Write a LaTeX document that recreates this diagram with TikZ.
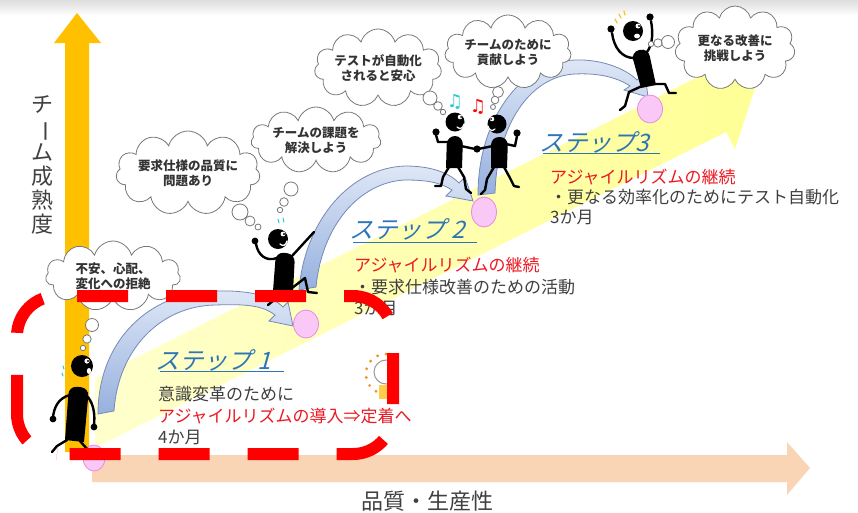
\documentclass[tikz,border=0pt]{standalone}
\usepackage{fontspec}
\newfontfamily\jp{Noto Sans CJK JP}
\newfontfamily\symfont{DejaVu Sans}
\usetikzlibrary{shapes.symbols,shapes.geometric}

\definecolor{axisorange}{RGB}{255,192,0}
\definecolor{peach}{RGB}{249,213,182}
\definecolor{bandlight}{RGB}{255,255,205}
\definecolor{banddeep}{RGB}{255,255,150}
\definecolor{arrowtop}{RGB}{222,231,246}
\definecolor{arrowbot}{RGB}{150,176,222}
\definecolor{arrowedge}{RGB}{118,138,182}
\definecolor{pinkfill}{RGB}{250,200,246}
\definecolor{pinkedge}{RGB}{228,140,224}
\definecolor{cloudgray}{RGB}{120,120,120}
\definecolor{textgray}{RGB}{64,64,64}
\definecolor{redtext}{RGB}{236,24,34}
\definecolor{stepblue}{RGB}{46,117,182}
\definecolor{dashred}{RGB}{255,0,0}
\definecolor{notecyan}{RGB}{40,200,215}
\definecolor{bulbdot}{RGB}{240,150,40}
\definecolor{bulbbase}{RGB}{255,205,70}
\definecolor{sparkle}{RGB}{245,200,40}

\tikzset{
  cloudbox/.style={cloud, cloud puffs=11, cloud ignores aspect, draw=cloudgray,
    fill=white, line width=0.8pt, inner sep=0pt, align=center, text=black!80,
    font=\jp\bfseries\fontsize{12.5}{15}\selectfont},
  puffline/.style={draw=cloudgray, fill=white, line width=0.8pt},
  curvearrow/.style={top color=arrowtop, bottom color=arrowbot, draw=arrowedge, line width=0.8pt},
  stoneball/.style={draw=pinkedge, fill=pinkfill, line width=0.8pt},
  limb/.style={draw=black, line width=2.4pt, line cap=round, line join=round},
  stepbody/.style={font=\jp\fontsize{17}{20}\selectfont, text=textgray, anchor=west, inner sep=0pt},
  stepred/.style={stepbody, text=redtext},
  steplabel/.style={font=\jp\fontsize{24}{26}\selectfont, text=stepblue, anchor=west, inner sep=0pt, transform shape},
  axislabel/.style={font=\jp\fontsize{22}{24}\selectfont, text=textgray, align=center, inner sep=0pt},
  framedash/.style={dashred, line width=12pt, rounded corners=40pt},
}

\begin{document}
\begin{tikzpicture}[x=1pt,y=-1pt]
\useasboundingbox (0,0) rectangle (858,512);
\fill[white] (0,0) rectangle (858,512);
\shade[top color=black!13, bottom color=white] (0,0) rectangle (858,16);

% axes
\fill[axisorange] (65,452) -- (65,43) -- (54,43) -- (77,13) -- (101,43) -- (89,43) -- (89,452) -- cycle;
\fill[peach] (92,455) -- (787,455) -- (787,442) -- (810,468) -- (787,495) -- (787,482) -- (92,482) -- cycle;

% rising band
\shade[left color=bandlight, right color=banddeep]
  (95,448) -- (95,378) -- (698,77) -- (690,60) -- (757,82) -- (735,149) -- (726,132) -- cycle;

% curved step arrows
\shade[curvearrow] (98,414) .. controls (98,340) and (150,292) .. (215,291)
  .. controls (250,290) and (272,296) .. (283,307) -- (288,302) -- (293,326) -- (269,321) -- (275,315)
  .. controls (262,305) and (245,304) .. (215,305) .. controls (160,306) and (118,350) .. (114,411) -- cycle;
\shade[curvearrow] (299,290) .. controls (305,220) and (350,168) .. (405,166)
  .. controls (430,166) and (448,172) .. (459,183) -- (465,177) -- (473,201) -- (446,196) -- (452,190)
  .. controls (440,182) and (425,180) .. (405,180) .. controls (360,182) and (322,225) .. (316,287) -- cycle;
\shade[curvearrow] (478,195) .. controls (478,120) and (520,62) .. (575,60)
  .. controls (600,59) and (625,68) .. (637,80) -- (645,74) -- (648,97) -- (624,90) -- (630,86)
  .. controls (615,76) and (595,73) .. (575,74) .. controls (530,76) and (497,125) .. (495,193) -- cycle;

% stepping stones
\draw[stoneball] (94,458) ellipse [x radius=11pt, y radius=13pt];
\draw[stoneball] (306,324) ellipse [x radius=12.5pt, y radius=14pt];
\draw[stoneball] (484,212) ellipse [x radius=12.5pt, y radius=15pt];
\draw[stoneball] (650,109) ellipse [x radius=12.5pt, y radius=14pt];

% figure 1: worried walker
\fill (65,440) [rounded corners=8pt] -- (69,386) -- (89,388) [sharp corners] -- (84,442) -- cycle;
\draw[limb] (70,395) .. controls (58,398) and (54,408) .. (53,417);
\fill (53,419) circle (3.4pt);
\draw[limb] (88,397) .. controls (94,405) and (95,415) .. (94,425);
\fill (94,427) circle (3.4pt);
\draw[limb] (67,440) -- (57,446) -- (52,452);
\draw[limb] (80,441) -- (88,450) -- (95,452);
\fill (82,366) circle (11pt);
\fill[white] (87,361) circle (2.6pt);
\fill (88,361) circle (1.2pt);
\fill[white] (89,371) ellipse [x radius=2.2pt, y radius=3pt];
\draw[notecyan, line width=1pt, line cap=round] (63,366) -- (64,369) (62,373) -- (63,376);

% figure 2: pointing forward
\fill (273,291) [rounded corners=8pt] -- (276,252) -- (295,254) [sharp corners] -- (293,292) -- cycle;
\draw[limb] (277,258) .. controls (266,262) and (258,255) .. (256,244);
\fill (255,241) circle (3.4pt);
\draw[limb] (292,256) -- (314,232);
\draw[limb] (292,288) -- (305,278) -- (308,292) -- (317,293);
\draw[limb] (279,290) -- (274,300) -- (268,305);
\fill (278,239) circle (10pt);
\fill[white] (283,234) circle (2.4pt);
\fill (284,234) circle (1.1pt);
\draw[white, line width=1.3pt, line cap=round] (280,244) .. controls (283,247) and (286,245) .. (287,241);
\draw[notecyan, line width=1pt, line cap=round] (278,219) -- (279,223) (283,218) -- (284,222);

% figures 3 and 4: handshake
\fill (446,168) [rounded corners=8pt] -- (447,136) -- (463,136) [sharp corners] -- (462,168) -- cycle;
\draw[limb] (448,142) -- (438,142) -- (436,135);
\fill (436,132) circle (3.6pt);
\draw[limb] (461,146) -- (475,149);
\draw[limb] (449,167) -- (443,177) -- (441,186) -- (435,186);
\draw[limb] (458,167) -- (464,177) -- (466,189) -- (471,193);
\fill (455,122) circle (9.5pt);
\fill[white] (460,117) circle (2.3pt);
\fill (461,117) circle (1pt);
\draw[white, line width=1.2pt, line cap=round] (457,127) .. controls (460,130) and (463,128) .. (464,124);

\fill (491,168) [rounded corners=8pt] -- (491,137) -- (508,137) [sharp corners] -- (507,168) -- cycle;
\draw[limb] (493,146) -- (478,149);
\fill (477,149) circle (3.6pt);
\draw[limb] (506,144) -- (515,146) -- (517,136);
\fill (517,133) circle (3.6pt);
\draw[limb] (494,167) -- (487,179) -- (485,190) -- (481,194);
\draw[limb] (504,167) -- (510,178) -- (514,186) -- (519,187);
\fill (497,124) circle (9.5pt);
\fill[white] (492,119) circle (2.3pt);
\fill (491,119) circle (1pt);
\draw[white, line width=1.2pt, line cap=round] (495,129) .. controls (492,132) and (489,130) .. (488,126);

% music notes
\node[font=\symfont\fontsize{18}{18}\selectfont, text=notecyan, inner sep=0pt] (noteA) at (455,102) {♫};
\node[font=\symfont\fontsize{18}{18}\selectfont, text=red, inner sep=0pt] (noteB) at (478,107) {♫};

% figure 5: cheering at the top
\fill (641,88) [rounded corners=8pt] -- (631,52) -- (648,48) [sharp corners] -- (656,85) -- cycle;
\draw[limb] (634,58) .. controls (622,58) and (614,48) .. (612,33);
\fill (611,29) circle (3.6pt);
\draw[limb] (647,52) .. controls (653,44) and (653,32) .. (651,21);
\fill (650,17) circle (3.6pt);
\draw[limb] (642,86) -- (629,92) -- (625,106) -- (620,110);
\draw[limb] (653,84) -- (665,84) -- (669,93) -- (676,93);
\fill (633,31) circle (10pt);
\fill[white] (638,26) circle (2.5pt);
\fill (639,26) circle (1.1pt);
\fill[white] (637,36) ellipse [x radius=3pt, y radius=2.4pt];
\draw[sparkle, line width=1.3pt, line cap=round] (615,19) -- (617,23) (619,14) -- (621,18) (624,11) -- (625,15);

% thought clouds
\node[cloudbox, minimum width=135pt, minimum height=70pt] (worry) at (113,276) {不安、心配、\\変化への拒絶};
\draw[puffline] (92,325) circle (6.5pt) (87,339) circle (4.2pt) (83,348) circle (2.7pt);

\node[cloudbox, minimum width=132pt, minimum height=84pt] (specs) at (188,173) {要求仕様の品質に\\問題あり};
\draw[puffline] (240,212) circle (8pt) (250,221) circle (5pt) (258,227) circle (3pt);

\node[cloudbox, minimum width=130pt, minimum height=66pt] (issues) at (316,140) {チームの課題を\\解決しよう};
\draw[puffline] (291,189) circle (7pt) (284,202) circle (4.3pt) (280,210) circle (2.7pt);

\node[cloudbox, minimum width=126pt, minimum height=78pt] (relief) at (378,68) {テストが自動化\\されると安心};
\draw[puffline] (430,98) circle (7pt) (438,106) circle (4.3pt) (443,112) circle (2.7pt);

\node[cloudbox, minimum width=118pt, minimum height=74pt] (contrib) at (508,52) {チームのために\\貢献しよう};
\draw[puffline] (498,92) circle (5.5pt) (495,100) circle (3.8pt) (493,107) circle (2.5pt);

\node[cloudbox, minimum width=120pt, minimum height=84pt] (challenge) at (735,48) {更なる改善に\\挑戦しよう};
\draw[puffline] (668,42) circle (6.5pt) (658,43) circle (4.2pt) (651,44) circle (2.7pt);

% axis labels
\node[axislabel] (maturity) at (42,165) {チ\\\rotatebox[origin=c]{-90}{ー}\\ム\\成\\熟\\度};
\node[axislabel] (quality) at (427,501) {品質・生産性};

% step 1
\begin{scope}[shift={(158,360)}, xslant=0.28]
  \node[steplabel] (step1) at (0,0) {ステップ 1};
\end{scope}
\draw[stepblue, line width=1pt] (160,371) -- (284,371);
\node[stepbody] (s1a) at (158,394) {意識変革のために};
\node[stepred] (s1b) at (158,416) {アジャイルリズムの導入⇒定着へ};
\node[stepbody] (s1c) at (158,437) {4か月};

% step 2
\begin{scope}[shift={(352,229)}, xslant=0.28]
  \node[steplabel] (step2) at (0,0) {ステップ 2};
\end{scope}
\draw[stepblue, line width=1pt] (353,242) -- (477,242);
\node[stepred] (s2a) at (354,265) {アジャイルリズムの継続};
\node[stepbody] (s2b) at (354,287) {・要求仕様改善のための活動};
\node[stepbody] (s2c) at (354,308) {3か月};

% step 3
\begin{scope}[shift={(542,142)}, xslant=0.28]
  \node[steplabel] (step3) at (0,0) {ステップ3};
\end{scope}
\draw[stepblue, line width=1pt] (543,153) -- (660,153);
\node[stepred] (s3a) at (550,177) {アジャイルリズムの継続};
\node[stepbody] (s3b) at (550,197) {・更なる効率化のためにテスト自動化};
\node[stepbody] (s3c) at (550,217) {3か月};

% light bulb
\foreach \a in {95,120,...,270} \fill[bulbdot] (386,374) ++(\a:20) circle (1.6pt);
\draw[black!40, fill=white, line width=1pt] (386,372) circle (12pt);
\fill[bulbbase] (379,385) rectangle (393,399);

% dashed frame: top, right and bottom edges, then the left side with its own rhythm
\draw[framedash, dash pattern=on 51pt off 38pt]
  (77,296) -- (393,296) -- (393,454) -- (57,454);
\draw[framedash, dash pattern=on 68pt off 42pt on 45pt off 34pt, dash phase=155pt]
  (57,454) -- (17,454) -- (17,296) -- (57,296);
\end{tikzpicture}
\end{document}
